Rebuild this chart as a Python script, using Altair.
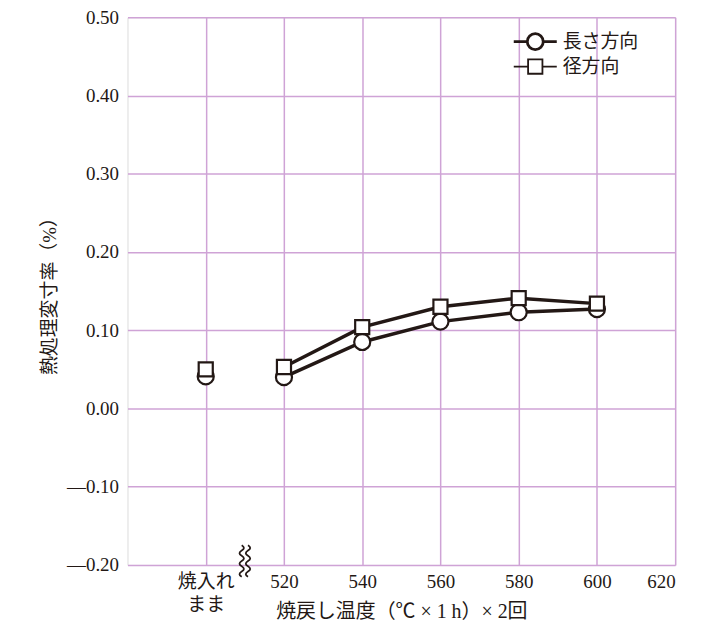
import altair as alt
import pandas as pd

# ---- data ----
temps = [500, 520, 540, 560, 580, 600]
length_vals = [0.041, 0.040, 0.085, 0.111, 0.123, 0.127]
radial_vals = [0.050, 0.053, 0.104, 0.130, 0.141, 0.134]
series_names = ["長さ方向", "径方向"]
x_ticks = [500, 520, 540, 560, 580, 600, 620]
y_ticks = [-0.2, -0.1, 0.0, 0.1, 0.2, 0.3, 0.4, 0.5]
break_x = [510]
break_y = [-0.195]

rows = []
for t, v in zip(temps, length_vals):
    rows.append({"temp": t, "val": v, "series": series_names[0]})
for t, v in zip(temps, radial_vals):
    rows.append({"temp": t, "val": v, "series": series_names[1]})
df = pd.DataFrame(rows)
brk = pd.DataFrame({"temp": break_x, "val": break_y})

INK = "#231815"
FRAME = "#b577bf"
GRID = "#cfa3d6"
FONT = "'Liberation Serif', 'Noto Sans CJK JP', serif"

x_enc = alt.X(
    "temp:Q",
    scale=alt.Scale(domain=[480, 620], nice=False, zero=False),
    axis=alt.Axis(
        values=x_ticks,
        labelExpr="datum.value == 500 ? ['焼入れ', 'まま'] : datum.label",
        title="焼戻し温度（℃ × 1 h）× 2回",
        grid=True,
        gridColor=GRID,
        gridWidth=1.5,
        domain=False,
        ticks=False,
        labelPadding=8,
        labelFontSize=19,
        labelFont=FONT,
        labelColor=INK,
        labelLineHeight=23,
        titleFontSize=20,
        titleFont=FONT,
        titleFontWeight="normal",
        titleColor=INK,
        titleY=47,
        titleBaseline="middle",
    ),
)
y_enc = alt.Y(
    "val:Q",
    scale=alt.Scale(domain=[-0.2, 0.5], nice=False, zero=False),
    axis=alt.Axis(
        values=y_ticks,
        labelExpr="datum.value < -0.001 ? '—' + format(abs(datum.value), '.2f') : format(datum.value, '.2f')",
        title="熱処理変寸率（%）",
        grid=True,
        gridColor=GRID,
        gridWidth=1.5,
        domain=False,
        ticks=False,
        labelPadding=9,
        labelFontSize=19,
        labelFont=FONT,
        labelColor=INK,
        titleFontSize=19,
        titleFont=FONT,
        titleFontWeight="normal",
        titleColor=INK,
        titleX=-78,
        titleBaseline="middle",
    ),
)

lines = (
    alt.Chart(df)
    .transform_filter("datum.temp >= 520")
    .mark_line(color=INK, strokeWidth=3.5)
    .encode(x=x_enc, y=y_enc, detail="series:N")
)

points = (
    alt.Chart(df)
    .mark_point(filled=True, fill="white", stroke=INK, strokeWidth=2.2, opacity=1)
    .encode(
        x=x_enc,
        y=y_enc,
        shape=alt.Shape("series:N", scale=alt.Scale(domain=series_names, range=["circle", "square"]), legend=None),
        size=alt.Size("series:N", scale=alt.Scale(domain=series_names, range=[260, 200]), legend=None),
    )
)

circ_path = "M-2.7,0H-1M1,0H2.7M-1,0A1,1,0,1,1,1,0A1,1,0,1,1,-1,0Z"
sq_path = "M-2.7,0H-0.9M0.9,0H2.7M-0.9,-0.9H0.9V0.9H-0.9Z"


def wave(x0, a=0.28):
    segs = ["M%.2f,-1" % x0]
    ys = [-1, -0.667, -0.333, 0, 0.333, 0.667, 1]
    for i in range(6):
        y0, y1 = ys[i], ys[i + 1]
        cx = x0 + (a if i % 2 == 0 else -a)
        segs.append("Q%.2f,%.3f,%.2f,%.3f" % (cx, (y0 + y1) / 2, x0, y1))
    return "".join(segs)


wave_path = wave(-0.2) + wave(0.2)


def legend_layer(name, path, y_off, sw):
    leg = alt.Legend(
        title=None,
        orient="none",
        legendX=400,
        legendY=y_off,
        symbolType=path,
        symbolSize=256,
        symbolFillColor="white",
        symbolStrokeColor=INK,
        symbolStrokeWidth=sw,
        labelFont=FONT,
        labelFontSize=19,
        labelColor=INK,
        labelOffset=18,
        padding=0,
    )
    return (
        alt.Chart(df)
        .transform_filter("false")
        .mark_point(filled=False, fill="white", strokeWidth=sw, opacity=1, size=256)
        .encode(
            x=x_enc,
            y=y_enc,
            color=alt.Color("series:N", scale=alt.Scale(domain=[name], range=[INK]), legend=leg),
        )
    )


leg1 = legend_layer(series_names[0], circ_path, 15, 2.8)
leg2 = legend_layer(series_names[1], sq_path, 40, 1.8)

brk_layer = (
    alt.Chart(brk)
    .mark_point(shape=wave_path, size=1000, filled=False, stroke=INK, strokeWidth=1.8, opacity=1)
    .encode(x=x_enc, y=y_enc)
)

chart = (
    alt.layer(lines, points, leg1, leg2, brk_layer)
    .resolve_scale(shape="independent", size="independent", color="independent")
    .properties(
        width=550,
        height=550,
        autosize=alt.AutoSizeParams(type="none"),
        padding={"left": 120, "top": 8, "right": 40, "bottom": 60},
    )
    .configure_view(stroke=FRAME, strokeWidth=2.5)
    .configure(background="white")
)

chart.save("out.html", embed_options={"renderer": "svg", "actions": False})
